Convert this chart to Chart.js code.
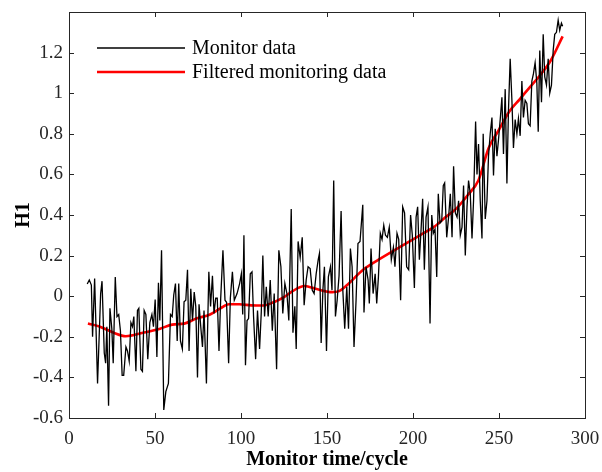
<!DOCTYPE html>
<html>
<head>
<meta charset="utf-8">
<title>H1 monitor data</title>
<script src="https://cdn.jsdelivr.net/npm/chart.js@4.4.0/dist/chart.umd.min.js"></script>
<style>
  html, body { margin: 0; padding: 0; background: #fff; }
  #chart { display: block; }
</style>
</head>
<body>
<canvas id="chart" width="602" height="472"></canvas>
<script>
// raw monitor readings (turning points of the black trace)
const monitorCycle = [
  10.6, 11.8, 13.0, 13.7, 14.9, 16.6, 18.4, 19.2, 20.5, 21.3, 22.0, 23.0, 23.8, 24.9, 25.7, 26.9, 27.9, 28.9, 29.9, 30.9,
  31.8, 33.1, 34.0, 35.0, 36.0, 36.9, 37.7, 38.9, 39.8, 40.6, 41.8, 42.7, 43.7, 44.7, 45.8, 47.0, 48.2, 49.1, 50.1, 51.1,
  52.0, 52.8, 53.8, 55.1, 56.3, 57.8, 59.0, 60.0, 60.9, 61.9, 62.9, 63.8, 64.8, 65.9, 66.9, 67.9, 68.9, 69.8, 70.8, 71.8,
  72.8, 73.7, 74.7, 75.6, 76.6, 77.6, 78.5, 79.9, 81.3, 82.3, 83.4, 84.3, 85.3, 86.2, 87.2, 88.2, 89.5, 90.7, 91.6, 92.8,
  93.8, 95.0, 96.1, 97.7, 99.2, 100.2, 101.0, 101.7, 102.6, 103.5, 104.4, 105.4, 106.4, 107.3, 108.5, 109.6, 110.8, 111.8, 112.7, 113.7,
  114.7, 115.8, 117.0, 118.2, 119.3, 120.7, 122.0, 123.2, 124.3, 125.5, 126.7, 127.8, 129.2, 130.2, 131.3, 132.1, 133.2, 134.4, 135.6, 136.7,
  137.9, 139.0, 140.2, 141.4, 142.5, 143.7, 144.9, 145.6, 146.6, 147.6, 148.5, 149.7, 150.8, 152.0, 152.9, 153.9, 154.9, 155.9, 157.0, 158.2,
  159.2, 160.3, 161.5, 162.5, 163.6, 164.6, 165.7, 166.9, 168.0, 169.2, 170.8, 171.5, 172.7, 173.9, 174.6, 175.6, 176.8, 178.0, 178.9, 179.9,
  181.0, 182.0, 183.0, 184.0, 185.1, 186.2, 187.4, 188.6, 189.5, 190.7, 191.7, 192.8, 194.0, 195.1, 196.3, 197.5, 198.6, 199.6, 200.8, 201.8,
  202.7, 203.7, 204.7, 205.6, 206.6, 207.6, 208.7, 209.9, 210.9, 211.8, 212.8, 213.8, 214.7, 215.7, 216.7, 217.6, 218.4, 219.6, 220.7, 221.7,
  222.7, 223.6, 224.6, 225.6, 226.5, 227.5, 228.5, 229.4, 230.4, 231.4, 232.3, 233.3, 234.3, 235.2, 236.4, 237.2, 238.1, 239.1, 240.1, 240.8,
  242.0, 243.0, 243.9, 244.9, 245.9, 246.8, 247.8, 248.8, 249.7, 250.7, 251.7, 252.6, 253.6, 254.6, 255.5, 256.5, 257.5, 258.4, 259.4, 260.4,
  261.3, 262.3, 263.3, 264.2, 265.2, 266.2, 267.1, 268.1, 269.1, 270.0, 271.0, 272.0, 272.8, 273.7, 274.7, 275.7, 276.6, 277.6, 278.6, 279.5,
  280.5, 281.5, 282.4, 283.4, 284.4, 285.3, 286.3, 287.0
];
const monitorH1 = [
  0.06, 0.08, 0.055, -0.20, 0.087, -0.43, 0.013, 0.074, -0.28, -0.33, -0.15, -0.54, -0.06, -0.16, -0.33, 0.095, -0.10, -0.09, -0.17, -0.39,
  -0.39, -0.25, -0.27, -0.32, -0.13, -0.15, -0.10, -0.37, -0.07, -0.06, -0.36, -0.37, -0.07, -0.09, -0.31, -0.13, -0.09, -0.15, -0.016, -0.30,
  0.066, -0.12, 0.226, -0.56, -0.47, -0.43, -0.09, -0.10, 0.006, 0.062, -0.22, 0.062, -0.22, -0.26, -0.028, -0.02, 0.13, -0.27, 0.036, -0.12,
  0.02, -0.05, -0.40, -0.04, -0.15, -0.25, -0.07, -0.43, 0.12, -0.05, 0.10, -0.085, -0.01, -0.01, -0.27, -0.01, 0.226, -0.02, -0.03, -0.33,
  -0.01, 0.12, -0.02, 0.013, 0.062, 0.11, -0.09, 0.30, -0.34, -0.12, -0.11, 0.11, 0.12, -0.10, -0.31, -0.07, -0.26, -0.077, 0.20, -0.10,
  0.046, -0.10, 0.08, -0.17, 0.013, -0.36, 0.226, 0.145, -0.085, 0.063, 0.013, -0.12, 0.43, -0.18, -0.05, -0.26, 0.27, 0.19, 0.29, -0.044,
  0.08, 0.145, 0.136, 0.03, 0.013, 0.11, 0.18, 0.21, -0.23, 0.03, 0.145, -0.27, 0.095, 0.145, 0.03, 0.57, -0.10, -0.02, 0.10, 0.42,
  0.03, -0.16, 0.046, -0.16, 0.235, 0.145, -0.25, -0.02, 0.26, 0.27, 0.45, -0.08, 0.145, 0.08, -0.036, 0.235, 0.013, 0.11, -0.036, 0.095,
  0.31, 0.28, 0.35, 0.30, 0.29, 0.34, 0.18, 0.24, 0.145, 0.31, 0.28, -0.02, 0.44, 0.41, 0.145, 0.13, 0.40, 0.30, 0.04, 0.39,
  0.44, 0.18, 0.33, 0.48, 0.13, 0.39, 0.44, -0.134, 0.40, 0.31, 0.33, 0.095, 0.505, 0.36, 0.37, 0.545, 0.558, 0.29, 0.39, 0.505,
  0.29, 0.64, 0.41, 0.39, 0.47, 0.30, 0.34, 0.545, 0.20, 0.44, 0.57, 0.505, 0.284, 0.47, 0.86, 0.60, 0.75, 0.47, 0.284, 0.80,
  0.38, 0.47, 0.69, 0.80, 0.88, 0.595, 0.825, 0.69, 0.77, 0.87, 0.98, 0.70, 1.02, 0.555, 0.915, 1.17, 0.965, 0.73, 0.87, 0.80,
  0.875, 0.79, 1.06, 0.88, 0.965, 0.95, 0.85, 0.84, 1.06, 1.095, 1.15, 1.05, 0.81, 1.21, 0.956, 1.29, 1.08, 1.04, 1.17, 1.00,
  1.04, 1.21, 1.29, 1.30, 1.36, 1.31, 1.345, 1.33
];

// filtered curve (red)
const filteredCycle = [11, 18, 26, 33, 43, 53, 60, 67, 74, 82, 88, 93, 99, 106, 113, 119, 125, 130, 137, 144,
  153, 157, 161, 171, 180, 194, 204, 212, 219, 225, 232, 238, 244, 250, 256, 262, 268, 274, 280, 287];
const filteredH1 = [-0.135, -0.15, -0.18, -0.197, -0.18, -0.16, -0.14, -0.135, -0.11, -0.09, -0.06, -0.04, -0.04, -0.045, -0.046, -0.03, -0.005, 0.025, 0.05, 0.035,
  0.02, 0.025, 0.05, 0.13, 0.18, 0.25, 0.30, 0.34, 0.39, 0.43, 0.50, 0.57, 0.73, 0.82, 0.91, 0.97, 1.03, 1.09, 1.16, 1.28];

const seriesNames = ["Monitor data", "Filtered monitoring data"];
const xTickStep = 50;
const yTickStep = 0.2;

const FONT = "'Liberation Serif', 'Times New Roman', serif";
const AXIS = "#262626";

function toPoints(xs, ys) {
  return xs.map((x, i) => ({ x: x, y: ys[i] }));
}

// MATLAB-style box: frame + inward ticks on all four sides
const boxPlugin = {
  id: "box",
  afterDraw(chart) {
    const { ctx, chartArea: a, scales } = chart;
    const len = 5;
    ctx.save();
    ctx.strokeStyle = AXIS;
    ctx.lineWidth = 1;
    ctx.beginPath();
    scales.x.ticks.forEach(t => {
      const px = Math.round(scales.x.getPixelForValue(t.value)) + 0.5;
      ctx.moveTo(px, a.bottom); ctx.lineTo(px, a.bottom - len);
      ctx.moveTo(px, a.top); ctx.lineTo(px, a.top + len);
    });
    scales.y.ticks.forEach(t => {
      const py = Math.round(scales.y.getPixelForValue(t.value)) + 0.5;
      ctx.moveTo(a.left, py); ctx.lineTo(a.left + len, py);
      ctx.moveTo(a.right, py); ctx.lineTo(a.right - len, py);
    });
    ctx.stroke();
    ctx.strokeRect(Math.round(a.left) + 0.5, Math.round(a.top) + 0.5,
      Math.round(a.right - a.left), Math.round(a.bottom - a.top));
    ctx.restore();
  }
};

// legend in the top-left corner, no frame
const legendPlugin = {
  id: "cornerLegend",
  afterDraw(chart) {
    const { ctx, chartArea: a } = chart;
    ctx.save();
    ctx.font = "20px " + FONT;
    ctx.textBaseline = "middle";
    ctx.fillStyle = "#000";
    chart.data.datasets.forEach((ds, i) => {
      const y = a.top + 36 + i * 24;
      ctx.strokeStyle = ds.borderColor;
      ctx.lineWidth = ds.borderWidth;
      ctx.beginPath();
      ctx.moveTo(a.left + 28, y);
      ctx.lineTo(a.left + 116, y);
      ctx.stroke();
      ctx.fillText(ds.label, a.left + 123, y + 1);
    });
    ctx.restore();
  }
};

new Chart(document.getElementById("chart"), {
  type: "line",
  data: {
    datasets: [
      {
        label: seriesNames[0],
        data: toPoints(monitorCycle, monitorH1),
        borderColor: "#000000",
        borderWidth: 1.3,
        pointRadius: 0,
        tension: 0
      },
      {
        label: seriesNames[1],
        data: toPoints(filteredCycle, filteredH1),
        borderColor: "#ff0000",
        borderWidth: 2.6,
        pointRadius: 0,
        cubicInterpolationMode: "monotone"
      }
    ]
  },
  options: {
    responsive: false,
    animation: false,
    layout: { padding: { top: 12, right: 17, left: 0, bottom: 0 } },
    plugins: {
      legend: { display: false },
      tooltip: { enabled: false }
    },
    scales: {
      x: {
        type: "linear",
        min: 0,
        max: 300,
        // fixed band under the plot; let the layout padding decide the edges
        afterFit: s => { s.height = 54; s.paddingLeft = 0; s.paddingRight = 0; },
        grid: { display: false, drawTicks: false },
        border: { display: false },
        ticks: {
          stepSize: xTickStep,
          padding: 10,
          maxRotation: 0,
          color: AXIS,
          font: { family: FONT, size: 19 }
        },
        title: {
          display: true,
          text: "Monitor time/cycle",
          color: "#000",
          font: { family: FONT, size: 20, weight: "bold" },
          padding: { top: 0, bottom: 0 }
        }
      },
      y: {
        min: -0.6,
        max: 1.4,
        afterFit: s => { s.width = 69; s.paddingTop = 0; s.paddingBottom = 0; },
        afterBuildTicks: s => { s.ticks = s.ticks.filter(t => t.value < 1.3); },
        grid: { display: false, drawTicks: false },
        border: { display: false },
        ticks: {
          stepSize: yTickStep,
          padding: 6,
          color: AXIS,
          font: { family: FONT, size: 19 },
          callback: v => String(Math.round(v * 10) / 10)
        },
        title: {
          display: true,
          text: "H1",
          color: "#000",
          font: { family: FONT, size: 20, weight: "bold" },
          padding: { top: 12, bottom: 0 }
        }
      }
    }
  },
  plugins: [boxPlugin, legendPlugin]
});
</script>
</body>
</html>
